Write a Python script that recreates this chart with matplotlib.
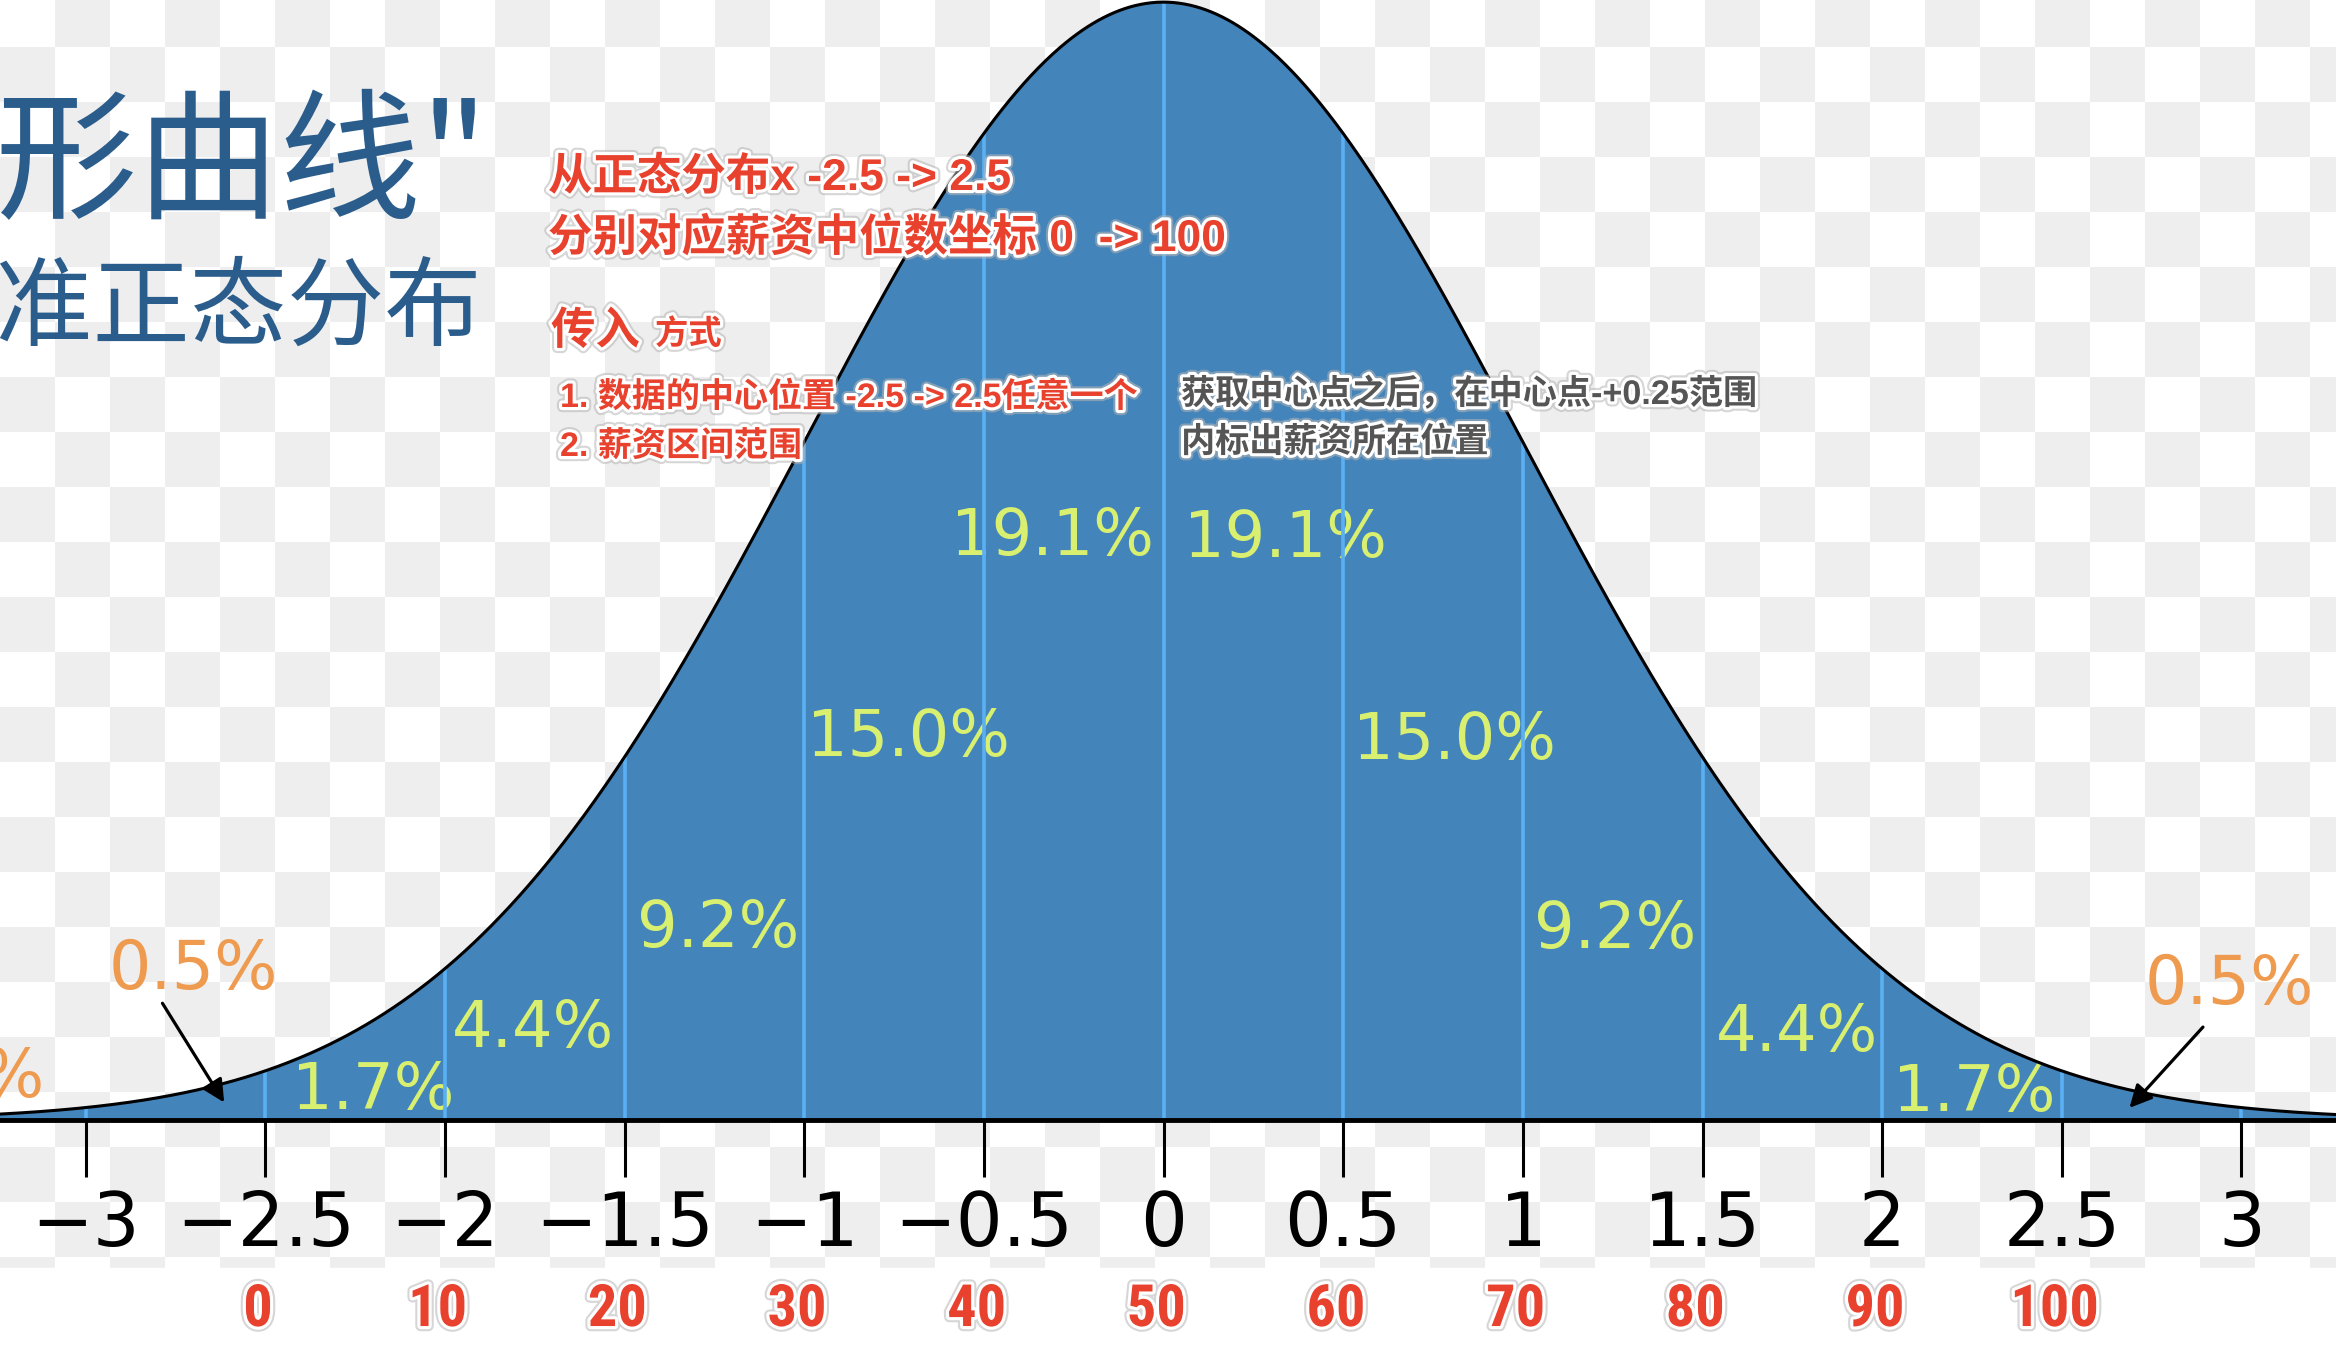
import numpy as np
import matplotlib
matplotlib.use('Agg')
import matplotlib.pyplot as plt
import matplotlib.patheffects as pe
from matplotlib import font_manager
from matplotlib.colors import ListedColormap

# standard normal curve
MU = 0.0
SIGMA = 1.0

x_ticks = [-3, -2.5, -2, -1.5, -1, -0.5, 0, 0.5, 1, 1.5, 2, 2.5, 3]
x_tick_labels = ['\u22123', '\u22122.5', '\u22122', '\u22121.5', '\u22121', '\u22120.5',
                 '0', '0.5', '1', '1.5', '2', '2.5', '3']

salary_x = [-2.5, -2, -1.5, -1, -0.5, 0, 0.5, 1, 1.5, 2, 2.5]
salary_labels = ['0', '10', '20', '30', '40', '50', '60', '70', '80', '90', '100']

pct_labels = ['0.1%', '0.5%', '1.7%', '4.4%', '9.2%', '15.0%', '19.1%',
              '19.1%', '15.0%', '9.2%', '4.4%', '1.7%', '0.5%']
# where each percentage sits (x in sigma, y in density units)
pct_x = [-3.35, -2.70, -2.20, -1.755, -1.24, -0.71, -0.31,
         0.34, 0.81, 1.257, 1.763, 2.256, 2.965]
pct_y = [0.0150, 0.0535, 0.0103, 0.0326, 0.0682, 0.1362, 0.2082,
         0.2072, 0.1352, 0.0678, 0.0310, 0.0098, 0.0482]
tail_labels = {'0.1%', '0.5%'}

title_lines = ['"钟形曲线"', '标准正态分布']
red_notes = ['从正态分布x -2.5 -> 2.5', '分别对应薪资中位数坐标 0  -> 100']
red_head = ['传入', '方式']
red_items = ['1. 数据的中心位置 -2.5 -> 2.5任意一个', '2. 薪资区间范围']
gray_notes = ['获取中心点之后，在中心点-+0.25范围', '内标出薪资所在位置']

W, H = 2336, 1358
DPI = 100

FILL = '#4384bb'
GRID_BLUE = '#5ab0f2'
GREEN = '#d8ef70'
ORANGE = '#ee9a4f'
RED = '#e8412d'
GRAY_TXT = '#555555'
NAVY = '#2b5d8c'

names = {f.name for f in font_manager.fontManager.ttflist}
LATIN = 'Liberation Sans'
for cand in ['Liberation Sans Narrow', 'DejaVu Sans Condensed', 'Roboto Condensed']:
  if cand in names:
    LATIN = cand
    break
NOTE_FONT = ['Liberation Sans', 'Noto Sans CJK SC', 'DejaVu Sans']
NUM_FONT = [LATIN, 'DejaVu Sans']

plt.rcParams['font.family'] = ['DejaVu Sans']


def pdf(x):
  return np.exp(-0.5 * ((x - MU) / SIGMA) ** 2) / (SIGMA * np.sqrt(2 * np.pi))


def fx(px):
  return px / W


def fy(py):
  return 1 - py / H


fig = plt.figure(figsize=(W / DPI, H / DPI), dpi=DPI)

# transparent-look checkerboard background
bg = fig.add_axes([0, 0, 1, 1], zorder=0)
cell = 55
y0 = -8
ncol = int(np.ceil(W / cell)) + 1
nrow = int(np.ceil((H - y0) / cell)) + 1
yy, xx = np.mgrid[0:nrow, 0:ncol]
board = (xx + yy) % 2
bg.imshow(board, cmap=ListedColormap(['#ffffff', '#eeeeee']),
          extent=(0, ncol * cell, y0 + nrow * cell, y0),
          interpolation='nearest', aspect='auto')
bg.axhspan(1268, H, color='white')
bg.set_xlim(0, W)
bg.set_ylim(H, 0)
bg.axis('off')

# main chart
ax = fig.add_axes([0, 0, 1, 1], zorder=1)
ax.set_facecolor('none')
px_per_unit = 1120 / 0.3997
ax.set_xlim(-3.238, 3.263)
ax.set_ylim(-238 / px_per_unit, 0.3997)

xs = np.linspace(-3.5, 3.5, 1400)
ax.fill_between(xs, 0, pdf(xs), color=FILL, lw=0, zorder=2)
ax.vlines(x_ticks, 0, pdf(np.array(x_ticks)), color=GRID_BLUE, lw=2.6, zorder=3.2)
ax.plot(xs, pdf(xs), color='black', lw=2.2, zorder=4)

ax.spines[['top', 'left', 'right']].set_visible(False)
ax.spines['bottom'].set_position(('data', 0))
ax.spines['bottom'].set_linewidth(3.5)
ax.spines['bottom'].set_zorder(4.5)
ax.set_yticks([])
ax.set_xticks(x_ticks, labels=x_tick_labels)
ax.tick_params(axis='x', direction='out', length=41, width=2.2, pad=9,
               labelsize=53, colors='black')

# percentages
for lab, x, y in zip(pct_labels, pct_x, pct_y):
  tail = lab in tail_labels
  ax.text(x, y, lab, ha='center', va='center',
          fontsize=48 if tail else 46,
          color=ORANGE if tail else GREEN, zorder=3)

# arrows from the 0.5% labels
ax.annotate('', xy=(-2.61, 0.0054), xytext=(-2.79, 0.0425),
            arrowprops=dict(arrowstyle='-|>', color='black', lw=2.3,
                            mutation_scale=34), zorder=5)
ax.annotate('', xy=(2.683, 0.0036), xytext=(2.898, 0.0339),
            arrowprops=dict(arrowstyle='-|>', color='black', lw=2.3,
                            mutation_scale=34), zorder=5)

outline = [pe.Stroke(linewidth=7.5, foreground='#b5b5b5', alpha=0.55),
           pe.Stroke(linewidth=4.5, foreground='white'), pe.Normal()]

# salary index labels under the axis
for x, lab in zip(salary_x, salary_labels):
  ax.text(x - 0.02, -0.068, lab, ha='center', va='center', fontsize=42,
          fontweight='bold', color=RED, family=NUM_FONT,
          path_effects=outline, zorder=6)

# big title, cut off at the left edge
fig.text(fx(488), fy(208), title_lines[0], ha='right', va='baseline',
         fontsize=102, color=NAVY, family=['Noto Sans CJK SC', 'DejaVu Sans'])
fig.text(fx(482), fy(338), title_lines[1], ha='right', va='baseline',
         fontsize=70, color=NAVY, family=['Noto Sans CJK SC', 'DejaVu Sans'])

# red notes
fig.text(fx(548), fy(190), red_notes[0], ha='left', va='baseline', fontsize=32,
         fontweight='bold', color=RED, family=NOTE_FONT, path_effects=outline, zorder=6)
fig.text(fx(548), fy(251), red_notes[1], ha='left', va='baseline', fontsize=32,
         fontweight='bold', color=RED, family=NOTE_FONT, path_effects=outline, zorder=6)
fig.text(fx(551), fy(344), red_head[0], ha='left', va='baseline', fontsize=32,
         fontweight='bold', color=RED, family=NOTE_FONT, path_effects=outline, zorder=6)
fig.text(fx(655), fy(344), red_head[1], ha='left', va='baseline', fontsize=24,
         fontweight='bold', color=RED, family=NOTE_FONT, path_effects=outline, zorder=6)
fig.text(fx(560), fy(407), red_items[0], ha='left', va='baseline', fontsize=24.5,
         fontweight='bold', color=RED, family=NOTE_FONT, path_effects=outline, zorder=6)
fig.text(fx(560), fy(456), red_items[1], ha='left', va='baseline', fontsize=24.5,
         fontweight='bold', color=RED, family=NOTE_FONT, path_effects=outline, zorder=6)

# gray notes
fig.text(fx(1181), fy(404), gray_notes[0], ha='left', va='baseline', fontsize=24.6,
         fontweight='bold', color=GRAY_TXT, family=NOTE_FONT, path_effects=outline, zorder=6)
fig.text(fx(1181), fy(452), gray_notes[1], ha='left', va='baseline', fontsize=24.6,
         fontweight='bold', color=GRAY_TXT, family=NOTE_FONT, path_effects=outline, zorder=6)

fig.savefig('out.png', dpi=DPI)
